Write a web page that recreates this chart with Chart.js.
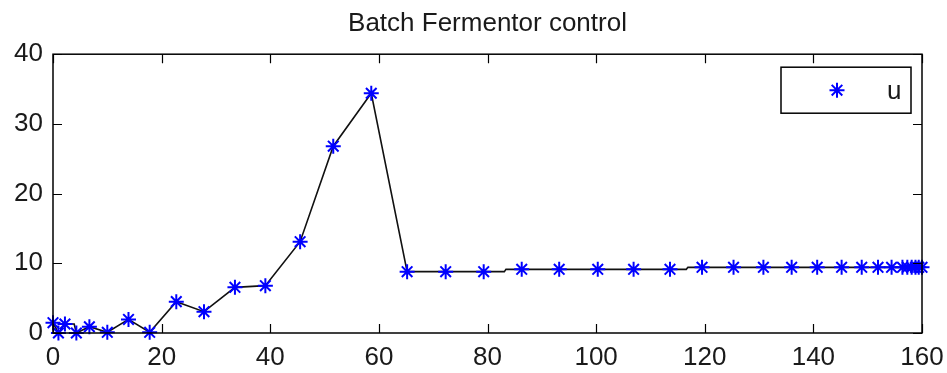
<!DOCTYPE html>
<html>
<head>
<meta charset="utf-8">
<title>Batch Fermentor control</title>
<script src="https://cdn.jsdelivr.net/npm/chart.js@4/dist/chart.umd.min.js"></script>
<style>
  html, body { margin: 0; padding: 0; background: #ffffff; }
  #wrap { width: 947px; height: 373px; }
</style>
</head>
<body>
<div id="wrap"><canvas id="chart" width="947" height="373"></canvas></div>
<script>
// Sample instants (time) and control input u at each sample
const sampleTimes = [0, 1.0, 2.2, 4.3, 6.7, 10.0, 13.9, 17.8, 22.7, 27.8, 33.5, 39.1, 45.5, 51.6, 58.6,
  65.2, 72.3, 79.3, 86.3, 93.2, 100.3, 106.9, 113.6, 119.5, 125.3, 130.8, 136.0, 140.7, 145.2,
  148.9, 151.9, 154.4, 156.4, 157.3, 158.1, 158.8, 159.4, 160];
const controlValues = [1.48, 0, 1.29, 0, 0.9, 0.1, 1.95, 0.1, 4.5, 3.06, 6.55, 6.79, 13.1, 26.8, 34.4,
  8.8, 8.8, 8.8, 9.13, 9.13, 9.13, 9.13, 9.13, 9.42, 9.42, 9.42, 9.42, 9.42, 9.42,
  9.42, 9.42, 9.42, 9.42, 9.42, 9.42, 9.42, 9.42, 9.42];

// Continuous control trajectory (includes the hold steps between samples)
const pathTimes = [0, 1.0, 2.2, 3.9, 4.3, 6.7, 10.0, 13.9, 17.8, 22.7, 27.8, 33.5, 39.1, 45.5, 51.6,
  58.6, 65.2, 83.1, 83.4, 116.6, 116.9, 160];
const pathValues = [1.48, 0, 1.29, 1.29, 0, 0.9, 0.1, 1.95, 0.1, 4.5, 3.06, 6.55, 6.79, 13.1, 26.8,
  34.4, 8.8, 8.8, 9.13, 9.13, 9.42, 9.42];

const xTicks = [0, 20, 40, 60, 80, 100, 120, 140, 160];
const yTicks = [0, 10, 20, 30, 40];
const seriesName = 'u';

const FONT = "'Liberation Sans', Arial, Helvetica, sans-serif";
const TEXT_COLOR = '#1a1a1a';
const TICK_LEN = 9;

// Axes box with inward tick marks on all four sides
const framePlugin = {
  id: 'frame',
  afterDraw(chart) {
    const { ctx, chartArea: a, scales } = chart;
    ctx.save();
    ctx.strokeStyle = '#000';
    ctx.lineWidth = 1.5;
    ctx.strokeRect(a.left, a.top, a.right - a.left, a.bottom - a.top);
    ctx.beginPath();
    xTicks.forEach(v => {
      const px = Math.round(scales.x.getPixelForValue(v)) + 0.5;
      ctx.moveTo(px, a.bottom); ctx.lineTo(px, a.bottom - TICK_LEN);
      ctx.moveTo(px, a.top); ctx.lineTo(px, a.top + TICK_LEN);
    });
    yTicks.forEach(v => {
      const py = Math.round(scales.y.getPixelForValue(v)) + 0.5;
      ctx.moveTo(a.left, py); ctx.lineTo(a.left + TICK_LEN, py);
      ctx.moveTo(a.right, py); ctx.lineTo(a.right - TICK_LEN, py);
    });
    ctx.lineWidth = 1.2;
    ctx.stroke();
    ctx.restore();
  }
};

// Boxed legend in the upper-right corner of the axes
const boxLegendPlugin = {
  id: 'boxLegend',
  afterDraw(chart) {
    const { ctx, chartArea: a } = chart;
    const ds = chart.data.datasets[1];
    const w = 130, h = 46;
    const x0 = a.right - 11 - w, y0 = a.top + 13;
    ctx.save();
    ctx.fillStyle = '#fff';
    ctx.fillRect(x0, y0, w, h);
    ctx.strokeStyle = '#000';
    ctx.lineWidth = 1.5;
    ctx.strokeRect(x0, y0, w, h);
    ctx.strokeStyle = ds.pointBorderColor;
    ctx.fillStyle = ds.pointBackgroundColor;
    ctx.lineWidth = ds.pointBorderWidth;
    Chart.helpers.drawPoint(ctx, {
      pointStyle: 'star', radius: ds.pointRadius, borderWidth: ds.pointBorderWidth, rotation: 0
    }, x0 + 56, y0 + h / 2);
    ctx.fillStyle = TEXT_COLOR;
    ctx.font = `26px ${FONT}`;
    ctx.textBaseline = 'middle';
    ctx.textAlign = 'left';
    ctx.fillText(ds.label, x0 + 106, y0 + h / 2 + 2);
    ctx.restore();
  }
};

new Chart(document.getElementById('chart'), {
  type: 'scatter',
  data: {
    datasets: [
      {
        label: 'trajectory',
        type: 'line',
        data: pathTimes.map((t, i) => ({ x: t, y: pathValues[i] })),
        borderColor: '#111',
        borderWidth: 1.6,
        pointRadius: 0,
        tension: 0,
        fill: false,
        order: 2
      },
      {
        label: seriesName,
        data: sampleTimes.map((t, i) => ({ x: t, y: controlValues[i] })),
        showLine: false,
        pointStyle: 'star',
        pointRadius: 7.5,
        pointBorderWidth: 2,
        pointBorderColor: '#0000ff',
        pointBackgroundColor: '#0000ff',
        clip: false,
        order: 1
      }
    ]
  },
  options: {
    responsive: false,
    animation: false,
    devicePixelRatio: 1,
    layout: { padding: { left: 0, right: 25, top: 0, bottom: 0 } },
    plugins: {
      legend: { display: false },
      tooltip: { enabled: false },
      title: {
        display: true,
        fullSize: false,
        text: 'Batch Fermentor control',
        color: TEXT_COLOR,
        font: { family: FONT, size: 26, weight: 'normal', lineHeight: 1.2 },
        padding: { top: 8, bottom: 15 }
      }
    },
    scales: {
      x: {
        type: 'linear',
        min: xTicks[0],
        max: xTicks[xTicks.length - 1],
        afterBuildTicks: s => { s.ticks = xTicks.map(v => ({ value: v })); },
        afterFit: s => { s.height = 40; s.paddingLeft = 0; s.paddingRight = 0; },
        grid: { display: false, drawTicks: false },
        border: { display: false },
        ticks: {
          color: TEXT_COLOR,
          font: { family: FONT, size: 26 },
          padding: 9,
          maxRotation: 0,
          autoSkip: false
        }
      },
      y: {
        type: 'linear',
        min: yTicks[0],
        max: yTicks[yTicks.length - 1],
        afterBuildTicks: s => { s.ticks = yTicks.map(v => ({ value: v })); },
        afterFit: s => { s.width = 53; s.paddingTop = 0; s.paddingBottom = 0; },
        grid: { display: false, drawTicks: false },
        border: { display: false },
        ticks: {
          color: TEXT_COLOR,
          font: { family: FONT, size: 26 },
          padding: 10,
          autoSkip: false
        }
      }
    }
  },
  plugins: [framePlugin, boxLegendPlugin]
});
</script>
</body>
</html>
